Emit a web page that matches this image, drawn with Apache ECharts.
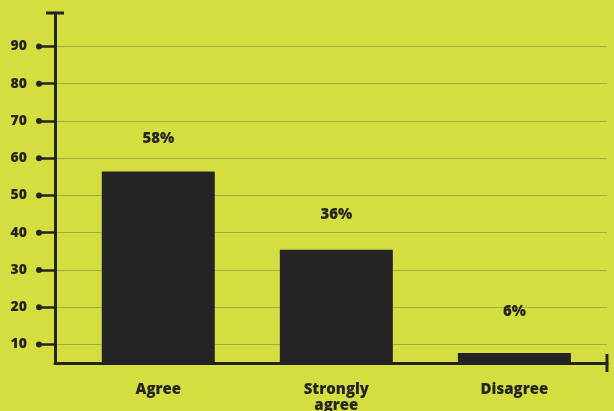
<!DOCTYPE html>
<html><head><meta charset="utf-8">
<script src="https://cdn.jsdelivr.net/npm/echarts@6/dist/echarts.min.js"></script>
<style>html,body{margin:0;padding:0;background:#d4de40;}#c{width:614px;height:411px;}</style>
</head><body><div id="c"></div>
<script>
var categories = ['Agree', 'Strongly\nagree', 'Disagree'];
var barValues = [56.4, 35.4, 7.7];
var labelTexts = ['58%', '36%', '6%'];
var labelAnchors = [65.2, 44.8, 18.7];
var yTicks = [10, 20, 30, 40, 50, 60, 70, 80, 90];

var chart = echarts.init(document.getElementById('c'), null, {renderer: 'canvas'});
var ink = '#242424';
var font = 'Open Sans';
chart.setOption({
  backgroundColor: '#d4de40',
  animation: false,
  grid: {left: 55, right: 7, top: 13, bottom: 48, outerBoundsMode: 'none', containLabel: false},
  xAxis: {
    type: 'value', min: -0.58, max: 2.52,
    splitLine: {show: false},
    axisTick: {show: false},
    axisLine: {onZero: false, lineStyle: {color: ink, width: 3}, symbol: ['none', 'rect'], symbolSize: [18, 3]},
    axisLabel: {
      customValues: [0, 1, 2],
      formatter: function (v) { return categories[Math.round(v)]; },
      color: ink, fontFamily: font, fontWeight: 800, fontSize: 15, lineHeight: 16, margin: 19
    }
  },
  yAxis: {
    type: 'value', min: 5, max: 99,
    axisLine: {show: true, onZero: false, lineStyle: {color: ink, width: 3}, symbol: ['none', 'rect'], symbolSize: [18, 3]},
    axisTick: {show: true, customValues: yTicks, length: 16, lineStyle: {color: ink, width: 2.5}},
    splitLine: {show: true, lineStyle: {color: '#a3ab3c', width: 1}},
    axisLabel: {
      customValues: yTicks,
      formatter: function (v) { return v + '{s|}{d|}'; },
      color: ink, fontFamily: font, fontWeight: 800, fontSize: 14, margin: 13,
      rich: {
        s: {width: 9, height: 6},
        d: {width: 6, height: 6, borderRadius: 3, backgroundColor: ink}
      }
    }
  },
  series: [{
    type: 'bar',
    data: barValues.map(function (v, i) { return [i, v]; }),
    barWidth: 113,
    itemStyle: {color: ink},
    z: 3
  }, {
    type: 'scatter',
    symbolSize: 0,
    itemStyle: {opacity: 1},
    data: labelAnchors.map(function (v, i) { return [i, v]; }),
    label: {
      show: true, position: 'inside',
      formatter: function (p) { return labelTexts[p.dataIndex]; },
      color: ink, fontFamily: font, fontWeight: 800, fontSize: 15
    }
  }]
});
</script></body></html>
